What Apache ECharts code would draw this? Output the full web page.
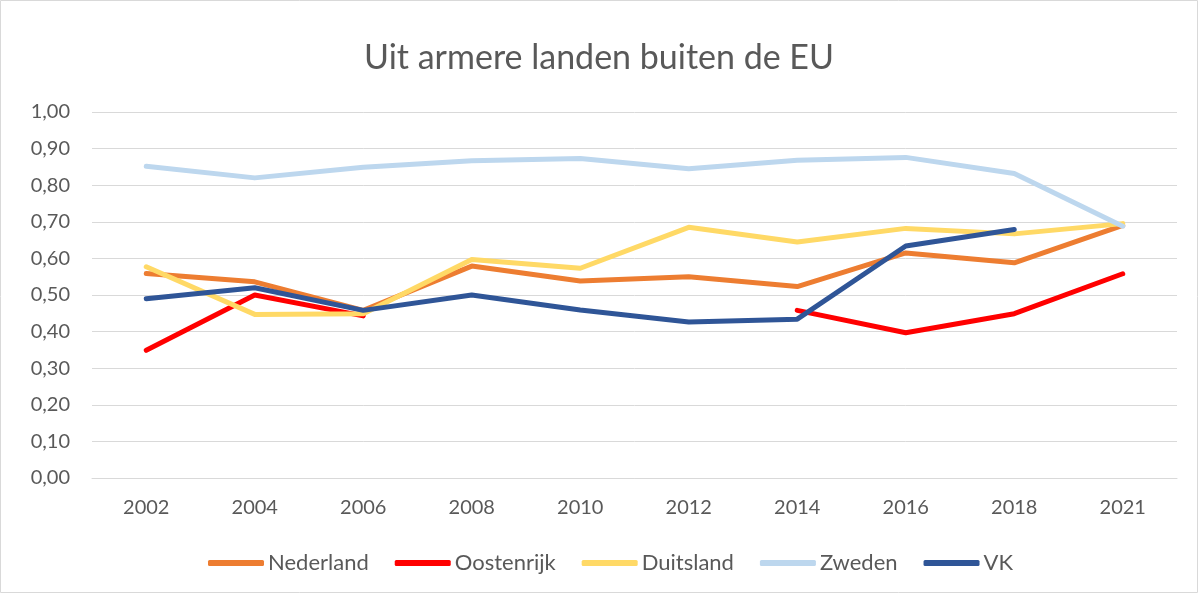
<!DOCTYPE html>
<html>
<head>
<meta charset="utf-8">
<script src="https://cdn.jsdelivr.net/npm/echarts@6/dist/echarts.min.js"></script>
<style>
html,body{margin:0;padding:0;background:#fff;}
#c{width:1198px;height:593px;}
</style>
</head>
<body>
<div id="c"></div>
<script>
const years = ['2002','2004','2006','2008','2010','2012','2014','2016','2018','2021'];
const nederland  = [0.559,0.536,0.458,0.579,0.538,0.550,0.523,0.615,0.588,0.690];
const oostenrijk = [0.349,0.500,0.443,null,null,null,0.458,0.397,0.449,0.558];
const duitsland  = [0.577,0.447,0.449,0.597,0.573,0.685,0.645,0.682,0.667,0.695];
const zweden     = [0.852,0.820,0.849,0.867,0.873,0.845,0.868,0.876,0.832,0.688];
const vk         = [0.490,0.520,0.458,0.500,0.459,0.426,0.434,0.634,0.679,null];
const seriesNames = ['Nederland','Oostenrijk','Duitsland','Zweden','VK'];
const seriesData = [nederland, oostenrijk, duitsland, zweden, vk];
const colors = ['#ED7D31','#FF0000','#FFD966','#BDD7EE','#2F5597'];

const font = 'Lato, "Liberation Sans", sans-serif';
const chart = echarts.init(document.getElementById('c'), null, {renderer:'canvas'});
chart.setOption({
  animation:false,
  color: colors,
  textStyle:{fontFamily:font},
  title:{
    text:'Uit armere landen buiten de EU',
    left:'center', top:36,
    textStyle:{fontFamily:font, fontSize:34, fontWeight:'normal', color:'#595959'}
  },
  graphic:[{type:'rect', shape:{x:0.5,y:0.5,width:1197,height:592}, style:{fill:'none', stroke:'#d9d9d9', lineWidth:1}, silent:true}],
  legend:{
    top:547, left:203, itemWidth:56, itemHeight:6, itemGap:26,
    icon:'roundRect',
    textStyle:{fontFamily:font, fontSize:22, color:'#595959', padding:[0,0,0,-1]},
    data: seriesNames
  },
  grid:{left:92, right:21, top:112, bottom:115},
  xAxis:{
    type:'category', data:years, boundaryGap:true,
    axisLine:{lineStyle:{color:'#d9d9d9', width:1}},
    axisTick:{show:false},
    axisLabel:{fontFamily:font, fontSize:20, color:'#595959', margin:20}
  },
  yAxis:{
    type:'value', min:0, max:1, interval:0.1,
    axisLine:{show:false}, axisTick:{show:false},
    splitLine:{lineStyle:{color:'#d9d9d9', width:1}},
    axisLabel:{fontFamily:font, fontSize:20, color:'#595959', margin:22,
      formatter:v=>v.toFixed(2).replace('.',',')}
  },
  series: seriesNames.map((n,i)=>({
    name:n, type:'line', data:seriesData[i], showSymbol:false, symbol:'none',
    connectNulls:false,
    lineStyle:{width:5, color:colors[i], cap:'round', join:'round'},
    itemStyle:{color:colors[i]}
  }))
});
</script>
</body>
</html>
